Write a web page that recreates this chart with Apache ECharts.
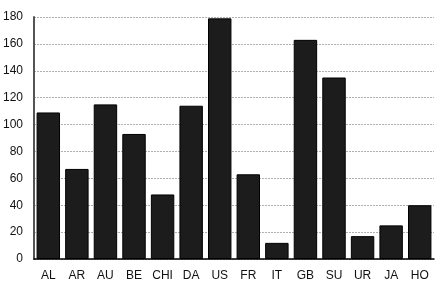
<!DOCTYPE html>
<html>
<head>
<meta charset="utf-8">
<script src="https://cdn.jsdelivr.net/npm/echarts@6/dist/echarts.min.js"></script>
<style>
  html, body { margin: 0; padding: 0; background: #fff; }
  #chart { width: 439px; height: 293px; }
</style>
</head>
<body>
<div id="chart"></div>
<script>
const categories = ['AL', 'AR', 'AU', 'BE', 'CHI', 'DA', 'US', 'FR', 'IT', 'GB', 'SU', 'UR', 'JA', 'HO'];
const values = [109, 67, 115, 93, 48, 114, 179, 63, 12, 163, 135, 17, 25, 40];

const chart = echarts.init(document.getElementById('chart'));
chart.setOption({
  animation: false,
  grid: { left: 34, right: 5, top: 17, bottom: 34 },
  xAxis: {
    type: 'category',
    data: categories,
    axisLine: { lineStyle: { color: '#000', width: 1.5 } },
    axisTick: { show: false },
    axisLabel: { color: '#111', fontFamily: 'Liberation Sans', fontSize: 12, margin: 11, interval: 0 }
  },
  yAxis: {
    type: 'value',
    min: 0,
    max: 180,
    interval: 20,
    axisLine: { show: true, lineStyle: { color: '#555', width: 2 } },
    axisTick: { show: false },
    axisLabel: { color: '#111', fontFamily: 'Liberation Sans', fontSize: 12, margin: 11 },
    splitLine: { lineStyle: { color: '#b0b0b0', type: [2, 1] } }
  },
  series: [{
    type: 'bar',
    data: values,
    barCategoryGap: '18%',
    itemStyle: { color: '#1c1c1c', borderColor: '#000', borderWidth: 1 }
  }]
});
</script>
</body>
</html>
